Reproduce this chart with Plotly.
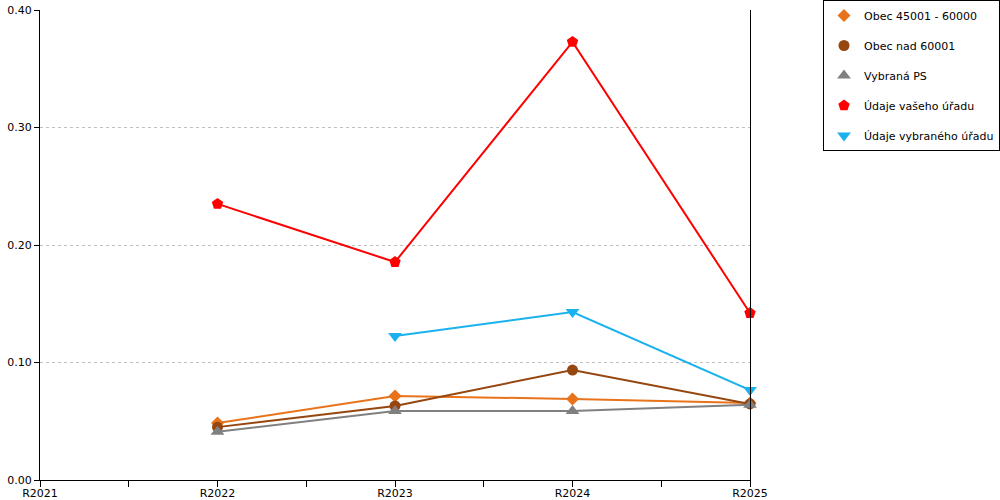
import plotly.graph_objects as go

years = ["R2021", "R2022", "R2023", "R2024", "R2025"]

obec_45001_60000 = [None, 0.0485, 0.0715, 0.069, 0.0655]
obec_nad_60001 = [None, 0.045, 0.063, 0.0936, 0.0647]
vybrana_ps = [None, 0.041, 0.0587, 0.0587, 0.064]
udaje_vaseho = [None, 0.235, 0.1855, 0.3728, 0.1421]
udaje_vybraneho = [None, None, 0.1226, 0.143, 0.0766]

series = [
    ("Obec 45001 - 60000", obec_45001_60000, "#E8731A", "diamond", 10),
    ("Obec nad 60001", obec_nad_60001, "#96460F", "circle", 11),
    ("Vybraná PS", vybrana_ps, "#808080", "triangle-up", 12),
    ("Údaje vašeho úřadu", udaje_vaseho, "#FF0000", "pentagon", 12),
    ("Údaje vybraného úřadu", udaje_vybraneho, "#1AB2EE", "triangle-down", 12),
]

xpos = list(range(len(years)))

fig = go.Figure()
for name, vals, color, symbol, size in series:
    fig.add_trace(go.Scatter(
        x=xpos, y=vals, mode="lines+markers", name=name,
        line=dict(color=color, width=2),
        marker=dict(symbol=symbol, size=size, color=color),
        showlegend=False, cliponaxis=False,
    ))
    # legend entry with marker only
    fig.add_trace(go.Scatter(
        x=[None], y=[None], mode="markers", name=name, legendgroup=name,
        marker=dict(symbol=symbol, size=size, color=color),
    ))

tickvals = [i / 2 for i in range(2 * len(years) - 1)]
ticktext = [years[int(v)] if v == int(v) else "" for v in tickvals]

fig.update_layout(
    width=1000, height=500,
    margin=dict(l=40, r=250, t=10, b=20, autoexpand=False),
    plot_bgcolor="white", paper_bgcolor="white",
    font=dict(family="DejaVu Sans", size=11, color="black"),
    xaxis=dict(
        range=[0, 4], tickvals=tickvals, ticktext=ticktext,
        ticks="outside", ticklen=6, tickcolor="black",
        ticklabelstandoff=-3, ticklabeloverflow="allow",
        showline=True, linecolor="black", linewidth=1,
        showgrid=False, zeroline=False, automargin=False,
    ),
    yaxis=dict(
        range=[0, 0.4], tickvals=[0, 0.1, 0.2, 0.3, 0.4], tickformat=".2f",
        ticks="outside", ticklen=5, tickcolor="black",
        ticklabeloverflow="allow",
        showline=True, linecolor="black", linewidth=1, mirror=True,
        showgrid=True, gridcolor="#C0C0C0", griddash="dot",
        zeroline=False, automargin=False,
    ),
    legend=dict(
        x=(1000 - 40) / 710, y=1 + 10 / 470, xanchor="right", yanchor="top",
        bordercolor="black", borderwidth=1, bgcolor="white",
        font=dict(size=11), tracegroupgap=11, itemwidth=30,
    ),
)

# drop the default 8px page margin so the figure fills the window
fig.write_html(
    "out.html",
    config={"displayModeBar": False},
    post_script="document.body.style.margin='0';",
)
